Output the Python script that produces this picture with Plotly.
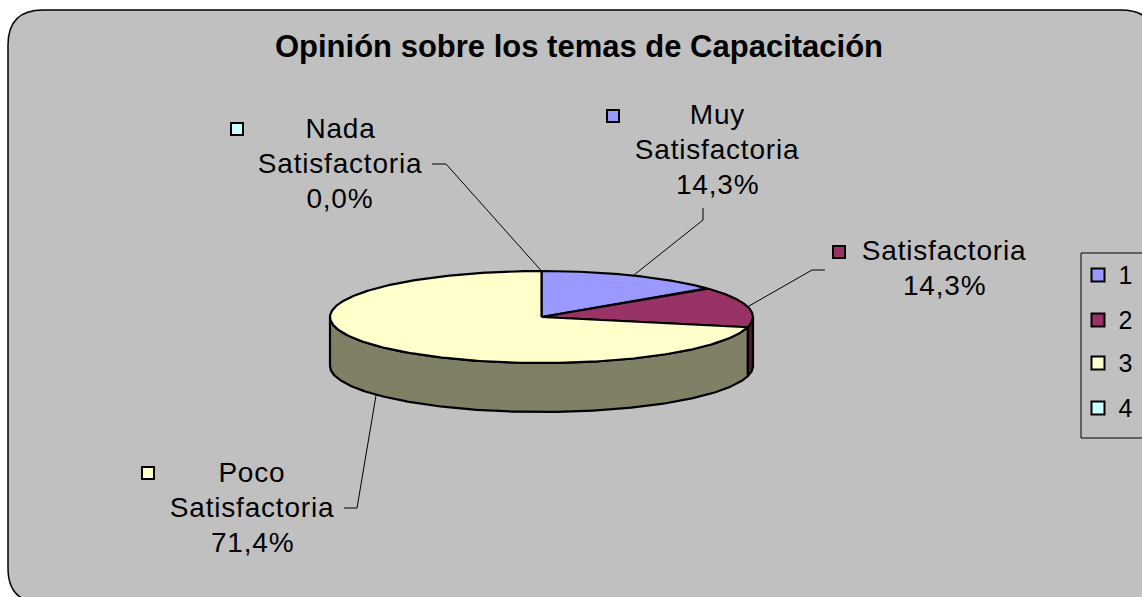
import numpy as np
import plotly.graph_objects as go

# ---------------- data ----------------
categories = ["Muy Satisfactoria", "Satisfactoria", "Poco Satisfactoria", "Nada Satisfactoria"]
counts = [1, 1, 5, 0]
legend_names = ["1", "2", "3", "4"]
chart_title = "Opinión sobre los temas de Capacitación"

# ---------------- styles ----------------
top_colors = ["#9999FF", "#993366", "#FFFFCC", "#CCFFFF"]
side_colors = ["#4D4D80", "#4D1933", "#808066", "#668080"]
FONT = "Liberation Sans, Arial, sans-serif"
W, H = 1142, 597

# pie geometry (pixel space)
CX, CY, RX, RY, DEPTH = 541.5, 317.0, 211.5, 46.0, 49.0

# label layout (positions of text blocks, markers and leader elbows)
label_center = [(717, 149), (944, 268), (252, 507), (340, 163)]
label_marker = [(613, 116), (839, 252), (148, 473), (237, 129)]
leader_elbow = [[(703, 208), (703, 220)], [(825, 270), (812, 270)],
                [(344, 508), (357, 508)], [(432, 164), (446, 164)]]
LINE_GAP = 35

legend_box = (1081, 253, 1170, 438)
legend_y = [275, 320, 363, 408]
legend_sq_x, legend_txt_x = 1098, 1117


def ell(theta_deg, dy=0.0):
    t = np.radians(theta_deg)
    return CX + RX * np.sin(t), CY - RY * np.cos(t) + dy


total = float(sum(counts))
shares = [c / total for c in counts]
starts = np.concatenate([[0.0], np.cumsum(shares)[:-1]]) * 360.0
ends = starts + np.array(shares) * 360.0

fig = go.Figure()

# background panel (rounded rectangle)
x0, y0, x1, y1, r = 8, 10, 1156, 603, 35
path = (f"M {x0+r},{y0} L {x1-r},{y0} Q {x1},{y0} {x1},{y0+r} "
        f"L {x1},{y1-r} Q {x1},{y1} {x1-r},{y1} L {x0+r},{y1} "
        f"Q {x0},{y1} {x0},{y1-r} L {x0},{y0+r} Q {x0},{y0} {x0+r},{y0} Z")
fig.add_shape(type="path", path=path, xref="x", yref="y", fillcolor="#C0C0C0",
              line=dict(color="black", width=1.5), layer="below")

# ---- sides (visible front half: 90..270 deg clockwise from top) ----
for i in range(len(categories)):
    a, b = max(starts[i], 90.0), min(ends[i], 270.0)
    if counts[i] == 0 or b <= a:
        continue
    th = np.linspace(a, b, 200)
    tx, ty = ell(th)
    bx, by = ell(th[::-1], DEPTH)
    xs = np.concatenate([tx, bx, tx[:1]])
    ys = np.concatenate([ty, by, ty[:1]])
    fig.add_trace(go.Scatter(x=xs, y=ys, mode="lines", fill="toself",
                             fillcolor=side_colors[i],
                             line=dict(color="black", width=2.2),
                             hoverinfo="skip", showlegend=False))

# ---- top faces ----
for i in range(len(categories)):
    if counts[i] == 0:
        continue
    th = np.linspace(starts[i], ends[i], 400)
    ax_, ay_ = ell(th)
    xs = np.concatenate([[CX], ax_, [CX]])
    ys = np.concatenate([[CY], ay_, [CY]])
    fig.add_trace(go.Scatter(x=xs, y=ys, mode="lines", fill="toself",
                             fillcolor=top_colors[i],
                             line=dict(color="black", width=2.2),
                             hoverinfo="skip", showlegend=False,
                             name=categories[i]))

# ---- leader lines ----
for i in range(len(categories)):
    mid = (starts[i] + ends[i]) / 2.0
    front = np.cos(np.radians(mid)) < 0
    px, py = ell(mid, DEPTH if front else 0.0)
    pts = leader_elbow[i] + [(px, py)]
    fig.add_trace(go.Scatter(x=[p[0] for p in pts], y=[p[1] for p in pts],
                             mode="lines", line=dict(color="black", width=1),
                             hoverinfo="skip", showlegend=False))

# ---- data label markers ----
fig.add_trace(go.Scatter(x=[m[0] for m in label_marker], y=[m[1] for m in label_marker],
                         mode="markers",
                         marker=dict(symbol="square", size=12, color=top_colors,
                                     line=dict(color="black", width=2)),
                         hoverinfo="skip", showlegend=False))

# ---- data labels ----
for i, cat in enumerate(categories):
    pct = f"{100.0 * shares[i]:.1f}".replace(".", ",") + "%"
    words = cat.split(" ")
    lines = words + [pct]
    n = len(lines)
    cxl, cyl = label_center[i]
    for k, t in enumerate(lines):
        yk = cyl + (k - (n - 1) / 2.0) * LINE_GAP
        fig.add_annotation(x=cxl, y=yk, xref="x", yref="y", text=t, showarrow=False,
                           xanchor="center", yanchor="middle",
                           font=dict(family=FONT, size=28, color="black"))

# ---- legend ----
lx0, ly0, lx1, ly1 = legend_box
fig.add_shape(type="rect", x0=lx0, y0=ly0, x1=lx1, y1=ly1, xref="x", yref="y",
              fillcolor="#C0C0C0", line=dict(color="black", width=1), layer="below")
fig.add_trace(go.Scatter(x=[legend_sq_x] * len(legend_names), y=legend_y, mode="markers",
                         marker=dict(symbol="square", size=13, color=top_colors,
                                     line=dict(color="black", width=2)),
                         hoverinfo="skip", showlegend=False))
for name, yy in zip(legend_names, legend_y):
    fig.add_annotation(x=legend_txt_x, y=yy, xref="x", yref="y", text=name, showarrow=False,
                       xanchor="left", yanchor="middle",
                       font=dict(family=FONT, size=25, color="black"))

fig.update_layout(
    width=W, height=H,
    margin=dict(l=0, r=0, t=0, b=0),
    paper_bgcolor="white", plot_bgcolor="white",
    title=dict(text=f"<b>{chart_title}</b>", x=579 / W, xanchor="center",
               y=1 - 46 / H, yanchor="middle", xref="paper", yref="container",
               font=dict(family=FONT, size=31, color="black")),
    xaxis=dict(range=[0, W], visible=False, fixedrange=True),
    yaxis=dict(range=[H, 0], visible=False, fixedrange=True),
    showlegend=False,
)

js = """
document.body.style.margin='0';
document.body.style.overflow='hidden';
document.querySelectorAll('.annotation-text').forEach(function(e){e.style.letterSpacing='0.8px';});
"""
fig.write_html("out.html", post_script=js, config={"displayModeBar": False})
